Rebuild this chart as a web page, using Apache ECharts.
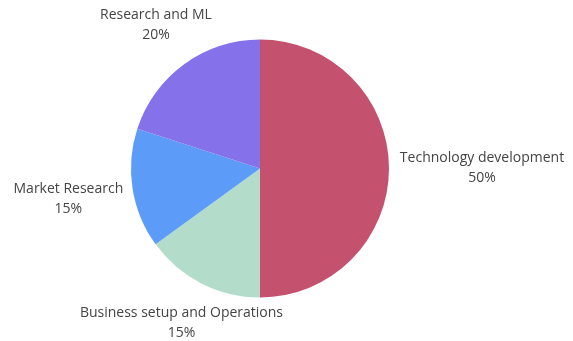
<!DOCTYPE html>
<html>
<head>
<meta charset="utf-8">
<script src="https://cdn.jsdelivr.net/npm/echarts@6/dist/echarts.min.js"></script>
<style>
html,body{margin:0;padding:0;background:#fff;}
#chart{width:573px;height:341px;}
</style>
</head>
<body>
<div id="chart"></div>
<script>
const categories = ['Technology development', 'Business setup and Operations', 'Market Research', 'Research and ML'];
const shares = [50, 15, 15, 20];
const sliceColors = ['#c4516e', '#b3dcca', '#5c9cf8', '#8571ea'];

// layout (pixels)
const CX = 260, CY = 168.5, R = 129;
const labelRadius = [222, 173, 194, 177];

const total = shares.reduce((a, b) => a + b, 0);
function midAngle(i) {
  let before = 0;
  for (let k = 0; k < i; k++) before += shares[k];
  return ((before + shares[i] / 2) / total) * Math.PI * 2; // clockwise from top
}

const chart = echarts.init(document.getElementById('chart'), null, {renderer: 'canvas'});
chart.setOption({
  backgroundColor: '#ffffff',
  animation: false,
  series: [{
    type: 'pie',
    center: [CX, CY],
    radius: [0, R],
    startAngle: 90,
    clockwise: true,
    percentPrecision: 0,
    data: categories.map((c, i) => ({name: c, value: shares[i], itemStyle: {color: sliceColors[i]}})),
    itemStyle: {borderWidth: 0},
    label: {
      show: true,
      position: 'outside',
      formatter: '{b}\n{d}%',
      fontFamily: 'Open Sans',
      fontSize: 14,
      lineHeight: 20,
      color: '#444',
      align: 'center',
      overflow: 'none',
      width: 300
    },
    labelLine: {show: false},
    emphasis: {disabled: true},
    labelLayout: function (p) {
      const a = midAngle(p.dataIndex);
      const d = labelRadius[p.dataIndex];
      return {
        x: CX + d * Math.sin(a),
        y: CY - d * Math.cos(a),
        align: 'center',
        verticalAlign: 'middle',
        width: 300
      };
    }
  }]
});
</script>
</body>
</html>
